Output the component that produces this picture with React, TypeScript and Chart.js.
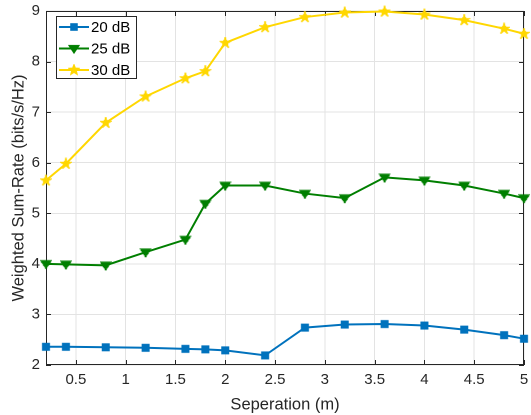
import React, { useEffect, useRef } from "react";
import { Chart, registerables } from "chart.js";

Chart.register(...registerables);

const separation = [0.2, 0.4, 0.8, 1.2, 1.6, 1.8, 2.0, 2.4, 2.8, 3.2, 3.6, 4.0, 4.4, 4.8, 5.0];
const rate20 = [2.36, 2.36, 2.35, 2.34, 2.32, 2.31, 2.29, 2.19, 2.74, 2.8, 2.81, 2.78, 2.7, 2.59, 2.52];
const rate25 = [4.0, 3.99, 3.97, 4.23, 4.48, 5.19, 5.55, 5.55, 5.39, 5.3, 5.71, 5.65, 5.55, 5.39, 5.3];
const rate30 = [5.65, 5.98, 6.79, 7.31, 7.67, 7.81, 8.37, 8.68, 8.88, 8.97, 8.99, 8.93, 8.82, 8.65, 8.55];
const seriesLabels = ["20 dB", "25 dB", "30 dB"];
const xTickValues = [0.5, 1, 1.5, 2, 2.5, 3, 3.5, 4, 4.5, 5];
const yTickValues = [2, 3, 4, 5, 6, 7, 8, 9];

const COLORS = ["#0072BD", "#007F00", "#FFD700"];
const AXIS = "#262626";
const FONT = "'Liberation Sans', Arial, Helvetica, sans-serif";

function makeMarker(kind: string, color: string): HTMLCanvasElement {
  const dpr = 3;
  const size = 12;
  const c = document.createElement("canvas");
  c.width = size * dpr;
  c.height = size * dpr;
  const ctx = c.getContext("2d")!;
  ctx.scale(dpr, dpr);
  ctx.fillStyle = color;
  ctx.strokeStyle = color;
  ctx.lineWidth = 1;
  const cx = size / 2;
  const cy = size / 2;
  ctx.beginPath();
  if (kind === "square") {
    ctx.rect(cx - 3.3, cy - 3.3, 6.6, 6.6);
  } else if (kind === "tri") {
    const r = 5.2;
    ctx.moveTo(cx - r, cy - r * 0.6);
    ctx.lineTo(cx + r, cy - r * 0.6);
    ctx.lineTo(cx, cy + r * 0.9);
    ctx.closePath();
  } else {
    const outer = 5.6;
    const inner = 2.4;
    for (let i = 0; i < 10; i++) {
      const r = i % 2 === 0 ? outer : inner;
      const a = -Math.PI / 2 + (i * Math.PI) / 5;
      const px = cx + r * Math.cos(a);
      const py = cy + r * Math.sin(a);
      if (i === 0) ctx.moveTo(px, py);
      else ctx.lineTo(px, py);
    }
    ctx.closePath();
  }
  ctx.fill();
  ctx.stroke();
  return c;
}

export default function App() {
  const ref = useRef<HTMLCanvasElement | null>(null);

  useEffect(() => {
    document.body.style.margin = "0";
    const canvas = ref.current!;
    const markerKinds = ["square", "tri", "star"];
    const markers = markerKinds.map((k, i) => {
      const m = makeMarker(k, COLORS[i]);
      const img = document.createElement("canvas");
      img.width = 12;
      img.height = 12;
      img.getContext("2d")!.drawImage(m, 0, 0, 12, 12);
      return { hi: m, img };
    });
    const series = [rate20, rate25, rate30];

    const boxPlugin = {
      id: "matlabBox",
      beforeDatasetsDraw(chart: any) {
        const { ctx, chartArea } = chart;
        const { left, right, top, bottom } = chartArea;
        const xs = chart.scales.x;
        const ys = chart.scales.y;
        ctx.save();
        ctx.strokeStyle = AXIS;
        ctx.lineWidth = 1;
        ctx.beginPath();
        ctx.rect(left + 0.5, top + 0.5, right - left - 1, bottom - top - 1);
        const tl = 5;
        xTickValues.forEach((v) => {
          const px = Math.round(xs.getPixelForValue(v)) + 0.5;
          ctx.moveTo(px, bottom);
          ctx.lineTo(px, bottom - tl);
          ctx.moveTo(px, top);
          ctx.lineTo(px, top + tl);
        });
        yTickValues.forEach((v) => {
          const py = Math.round(ys.getPixelForValue(v)) + 0.5;
          ctx.moveTo(left, py);
          ctx.lineTo(left + tl, py);
          ctx.moveTo(right, py);
          ctx.lineTo(right - tl, py);
        });
        ctx.stroke();
        ctx.restore();
      },
      afterDraw(chart: any) {
        const { ctx, chartArea } = chart;
        const bx = chartArea.left + 10;
        const by = chartArea.top + 5;
        const bw = 81;
        const bh = 63;
        ctx.save();
        ctx.fillStyle = "#ffffff";
        ctx.fillRect(bx, by, bw, bh);
        ctx.strokeStyle = AXIS;
        ctx.lineWidth = 1;
        ctx.strokeRect(bx + 0.5, by + 0.5, bw - 1, bh - 1);
        ctx.font = `15px ${FONT}`;
        ctx.textBaseline = "middle";
        ctx.textAlign = "left";
        seriesLabels.forEach((lab, i) => {
          const ry = by + 11 + i * 21.5;
          ctx.strokeStyle = COLORS[i];
          ctx.lineWidth = 2;
          ctx.beginPath();
          ctx.moveTo(bx + 3, ry);
          ctx.lineTo(bx + 33, ry);
          ctx.stroke();
          ctx.drawImage(markers[i].hi, bx + 18 - 6, ry - 6, 12, 12);
          ctx.fillStyle = "#000000";
          ctx.fillText(lab, bx + 35, ry + 1);
        });
        ctx.restore();
      },
    };

    const chart = new Chart(canvas, {
      type: "line",
      data: {
        datasets: series.map((vals, i) => ({
          label: seriesLabels[i],
          data: separation.map((x, j) => ({ x, y: vals[j] })),
          borderColor: COLORS[i],
          backgroundColor: COLORS[i],
          borderWidth: 2,
          pointStyle: markers[i].img as any,
          pointRadius: 5,
          tension: 0,
          clip: false as any,
        })),
      },
      options: {
        animation: false,
        responsive: false,
        devicePixelRatio: 2,
        layout: { padding: { top: 11, right: 1, left: 0, bottom: 0 } },
        plugins: { legend: { display: false }, tooltip: { enabled: false } },
        scales: {
          x: {
            type: "linear",
            min: 0.2,
            max: 5,
            afterBuildTicks: (axis: any) => {
              axis.ticks = xTickValues.map((v) => ({ value: v }));
            },
            afterFit: (scale: any) => {
              scale.height = 50;
              scale.paddingLeft = 0;
              scale.paddingRight = 0;
            },
            grid: { color: "#e3e3e3", drawTicks: false, lineWidth: 1 },
            border: { display: false },
            ticks: {
              color: AXIS,
              font: { family: FONT, size: 15 },
              padding: 6,
              maxRotation: 0,
              autoSkip: false,
              callback: (v: any) => String(v),
            },
            title: {
              display: true,
              text: "Seperation (m)",
              color: AXIS,
              font: { family: FONT, size: 16.5 },
              padding: { top: 1, bottom: 0 },
            },
          },
          y: {
            type: "linear",
            min: 2,
            max: 9,
            afterBuildTicks: (axis: any) => {
              axis.ticks = yTickValues.map((v) => ({ value: v }));
            },
            afterFit: (scale: any) => {
              scale.width = 46;
              scale.paddingTop = 0;
              scale.paddingBottom = 0;
            },
            grid: { color: "#e3e3e3", drawTicks: false, lineWidth: 1 },
            border: { display: false },
            ticks: {
              color: AXIS,
              font: { family: FONT, size: 15 },
              padding: 6,
              callback: (v: any) => String(v),
            },
            title: {
              display: true,
              text: "Weighted Sum-Rate (bits/s/Hz)",
              color: AXIS,
              font: { family: FONT, size: 16.5 },
              padding: { top: 9, bottom: 0 },
            },
          },
        },
      },
      plugins: [boxPlugin],
    });
    return () => chart.destroy();
  }, []);

  return (
    <div style={{ width: 531, height: 415 }}>
      <canvas ref={ref} width={531} height={415} style={{ width: 531, height: 415, display: "block" }} />
    </div>
  );
}
